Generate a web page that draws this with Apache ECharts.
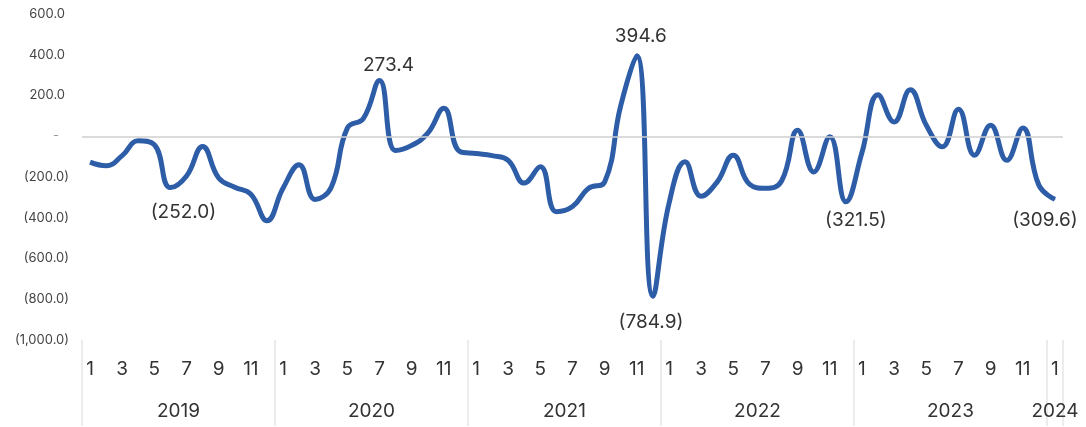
<!DOCTYPE html>
<html>
<head>
<meta charset="utf-8">
<script src="https://cdn.jsdelivr.net/npm/echarts@6/dist/echarts.min.js"></script>
<style>
html,body{margin:0;padding:0;background:#fff;}
#chart{width:1086px;height:427px;}
</style>
</head>
<body>
<div id="chart"></div>
<script>
// ---- data ----
const years = ['2019', '2020', '2021', '2022', '2023', '2024'];
const monthsPerYear = [12, 12, 12, 12, 12, 1];
const values2019 = [-127, -145, -95, -22, -42, -252.0, -195, -50, -205, -250, -285, -415];
const values2020 = [-255, -140, -310, -250, 40, 88, 273.4, -70, -45, 15, 137, -75];
const values2021 = [-85, -95, -118, -230, -150, -370, -345, -255, -225, 150, 394.6, -784.9];
const values2022 = [-330, -125, -295, -224, -93, -235, -255, -220, 29, -175, -3, -321.5];
const values2023 = [-80, 204, 70, 228, 54, -52, 132, -93, 54, -118, 41, -240];
const values2024 = [-309.6];
const annotatedIdx = [5, 18, 34, 35, 47, 60];
const yTicks = [-1000, -800, -600, -400, -200, 0, 200, 400, 600];

// ---- build ----
const values = [].concat(values2019, values2020, values2021, values2022, values2023, values2024);
const monthCats = [];
monthsPerYear.forEach(function (n) { for (let m = 1; m <= n; m++) monthCats.push(String(m)); });

const yearLabelPos = [];
const yearSepPos = [];
let start = 0;
monthsPerYear.forEach(function (n) {
  yearSepPos.push(start - 0.5);
  yearLabelPos.push(start + (n - 1) / 2);
  start += n;
});
yearSepPos.push(start - 0.5);

function fmtNum(v) {
  const s = Math.abs(v).toFixed(1).replace(/\B(?=(\d{3})+(?!\d))/g, ',');
  return v < 0 ? '(' + s + ')' : s;
}

const FONT = 'Inter, "Open Sans", sans-serif';

const labelStyles = {
  5: { position: 'bottom', offset: [13, 10] },
  18: { position: 'top', offset: [9, 0] },
  34: { position: 'top', offset: [4, -5] },
  35: { position: 'bottom', offset: [-2, 11] },
  47: { position: 'bottom', offset: [10, 4] },
  60: { position: 'bottom', offset: [-10, 6] }
};

const seriesData = values.map(function (v, i) {
  if (annotatedIdx.indexOf(i) >= 0) {
    const st = labelStyles[i];
    return {
      value: v,
      symbol: 'circle',
      symbolSize: 1,
      label: {
        show: true, position: st.position, offset: st.offset,
        formatter: function (p) { return fmtNum(p.value); },
        fontSize: 19, color: '#333', fontFamily: FONT
      }
    };
  }
  return v;
});

const chart = echarts.init(document.getElementById('chart'), null, { renderer: 'canvas' });
chart.setOption({
  animation: false,
  backgroundColor: '#fff',
  grid: { left: 82, right: 23, top: 14, bottom: 87, containLabel: false },
  xAxis: [
    {
      type: 'category',
      data: monthCats,
      boundaryGap: true,
      axisLine: { show: false },
      axisTick: { show: false },
      axisLabel: {
        interval: function (idx) { return idx % 2 === 0; },
        margin: 20, fontSize: 19, color: '#333', fontFamily: FONT
      }
    },
    {
      type: 'value',
      position: 'bottom',
      min: -0.5,
      max: monthCats.length - 0.5,
      axisLine: { show: false },
      splitLine: { show: false },
      axisTick: {
        show: true, length: 86, customValues: yearSepPos,
        lineStyle: { color: '#e6e6e6', width: 1.5 }
      },
      axisLabel: {
        customValues: yearLabelPos,
        margin: 62, fontSize: 19, color: '#333', fontFamily: FONT,
        formatter: function (v) {
          const k = yearLabelPos.findIndex(function (p) { return Math.abs(p - v) < 1e-6; });
          return k >= 0 ? years[k] : '';
        }
      }
    }
  ],
  yAxis: {
    type: 'value',
    min: yTicks[0],
    max: yTicks[yTicks.length - 1],
    interval: 200,
    axisLine: { show: false },
    axisTick: { show: false },
    splitLine: { show: false },
    axisLabel: {
      margin: 13, fontSize: 13, color: '#444', fontFamily: FONT,
      formatter: function (v) {
        if (v === 0) return '{z|-}';
        if (v > 0) return '{p|' + fmtNum(v) + '}';
        return fmtNum(v);
      },
      rich: {
        p: { fontSize: 13, color: '#444', fontFamily: FONT, padding: [0, 4, 0, 0] },
        z: { fontSize: 13, color: '#999', fontFamily: FONT, padding: [0, 10, 0, 0] }
      }
    }
  },
  series: [{
    type: 'line',
    xAxisIndex: 0,
    data: seriesData,
    smooth: 0.45,
    symbol: 'none',
    showAllSymbol: true,
    lineStyle: { color: '#2e5da8', width: 5 },
    itemStyle: { color: '#2e5da8' },
    markLine: {
      silent: true,
      symbol: 'none',
      label: { show: false },
      lineStyle: { color: '#cfcfcf', width: 1.5, type: 'solid' },
      data: [{ yAxis: 0 }]
    },
    z: 3
  }]
});
</script>
</body>
</html>
